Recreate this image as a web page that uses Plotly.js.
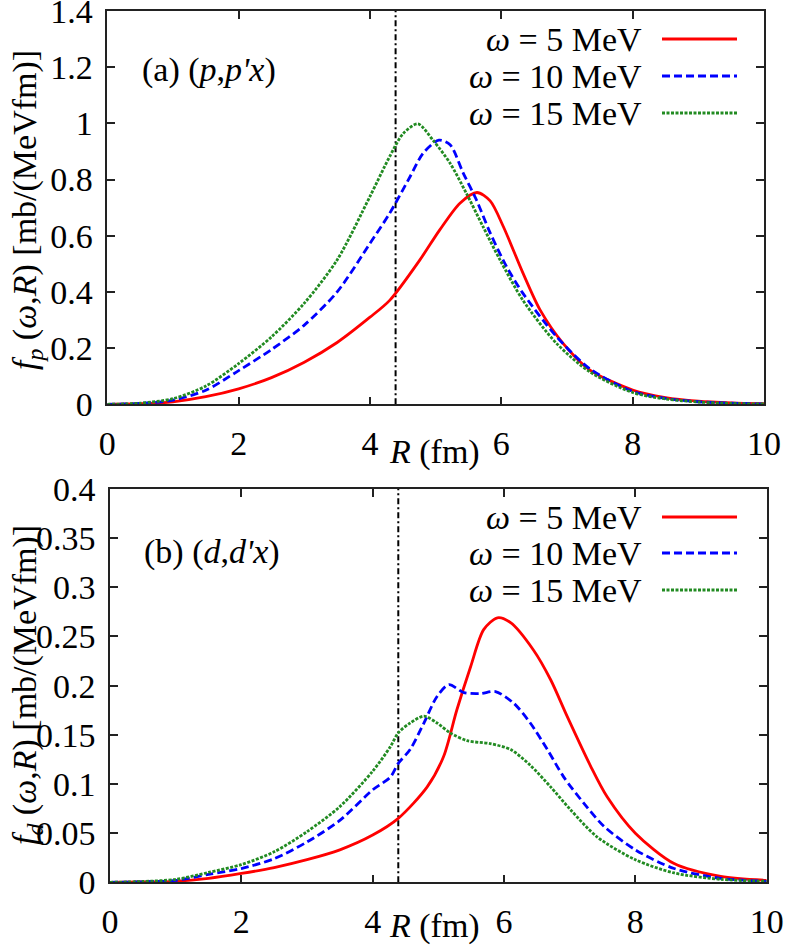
<html><head><meta charset="utf-8">
<script src="https://cdn.plot.ly/plotly-3.0.1.min.js"></script>
<style>
#chart svg text, #chart .main-svg text, #chart text tspan { font-family: 'Liberation Serif', 'Times New Roman', serif !important; }
</style>
</head><body style="margin:0">
<div id="chart" style="width:788px;height:946px"></div>
<script>
// ---- data ----
var seriesNames = ["<i>ω</i> = 5 MeV", "<i>ω</i> = 10 MeV", "<i>ω</i> = 15 MeV"];

// (a) (p,p'x)
var pR5  = [0, 0.5, 1, 1.5, 2, 2.5, 3, 3.5, 4, 4.3, 4.76, 5.06, 5.37, 5.63, 5.83, 6.03, 6.33, 6.59, 6.94, 7.35, 8, 8.5, 9, 9.5, 10];
var pF5  = [0, 0.002, 0.009, 0.027, 0.055, 0.095, 0.15, 0.22, 0.31, 0.37, 0.514, 0.62, 0.716, 0.754, 0.724, 0.633, 0.467, 0.336, 0.217, 0.122, 0.051, 0.024, 0.011, 0.005, 0.002];
var pR10 = [0, 0.5, 1, 1.5, 2, 2.5, 3, 3.5, 4, 4.3, 4.61, 4.81, 5.05, 5.22, 5.42, 5.62, 5.83, 6.08, 6.33, 6.84, 7.35, 8, 8.5, 9, 9.5, 10];
var pF10 = [0, 0.003, 0.015, 0.05, 0.12, 0.195, 0.282, 0.40, 0.573, 0.68, 0.81, 0.894, 0.94, 0.924, 0.823, 0.728, 0.61, 0.49, 0.395, 0.241, 0.126, 0.046, 0.021, 0.009, 0.004, 0.001];
var pR15 = [0, 0.5, 1, 1.5, 2, 2.5, 3, 3.5, 4, 4.3, 4.51, 4.73, 4.96, 5.22, 5.47, 5.72, 5.98, 6.33, 6.84, 7.35, 8, 8.5, 9, 9.5, 10];
var pF15 = [0, 0.004, 0.02, 0.065, 0.145, 0.24, 0.36, 0.514, 0.74, 0.882, 0.965, 0.998, 0.94, 0.858, 0.75, 0.633, 0.514, 0.37, 0.217, 0.115, 0.042, 0.019, 0.008, 0.003, 0.001];

// (b) (d,d'x)
var dR5  = [0, 0.5, 1, 1.5, 2, 2.5, 3, 3.5, 4, 4.39, 4.83, 5.08, 5.28, 5.49, 5.69, 5.9, 6.1, 6.45, 6.71, 6.96, 7.32, 7.57, 8, 8.59, 9.3, 10];
var dF5  = [0, 0.0003, 0.001, 0.004, 0.009, 0.015, 0.023, 0.033, 0.048, 0.065, 0.097, 0.128, 0.175, 0.219, 0.257, 0.269, 0.264, 0.236, 0.206, 0.169, 0.118, 0.087, 0.05, 0.019, 0.006, 0.002];
var dR10 = [0, 0.5, 1, 1.5, 2, 2.5, 3, 3.5, 4, 4.27, 4.39, 4.57, 4.78, 4.98, 5.16, 5.39, 5.64, 5.87, 6.15, 6.4, 6.66, 6.91, 7.22, 7.52, 8, 8.59, 9.3, 10];
var dF10 = [0, 0.0005, 0.002, 0.008, 0.014, 0.024, 0.041, 0.063, 0.094, 0.107, 0.121, 0.135, 0.162, 0.189, 0.201, 0.193, 0.192, 0.194, 0.182, 0.162, 0.135, 0.107, 0.08, 0.057, 0.033, 0.014, 0.004, 0.001];
var dR15 = [0, 0.5, 1, 1.5, 2, 2.5, 3, 3.5, 4, 4.27, 4.39, 4.57, 4.78, 4.98, 5.18, 5.44, 5.79, 6.1, 6.4, 6.71, 7.01, 7.42, 8, 8.59, 9.3, 10];
var dF15 = [0, 0.0008, 0.003, 0.01, 0.018, 0.031, 0.0515, 0.077, 0.113, 0.138, 0.152, 0.162, 0.169, 0.162, 0.152, 0.144, 0.141, 0.135, 0.119, 0.097, 0.074, 0.046, 0.023, 0.0095, 0.003, 0.001];

var radiusLine = [4.39, 4.39];
var pLineY = [0, 1.4];
var dLineY = [0, 0.4];

var xTicks = [0, 2, 4, 6, 8, 10];
var pYTicks = [0, 0.2, 0.4, 0.6, 0.8, 1, 1.2, 1.4];
var pYLabels = ["0", "0.2", "0.4", "0.6", "0.8", "1", "1.2", "1.4"];
var dYTicks = [0, 0.05, 0.1, 0.15, 0.2, 0.25, 0.3, 0.35, 0.4];
var dYLabels = ["0", "0.05", "0.1", "0.15", "0.2", "0.25", "0.3", "0.35", "0.4"];

// ---- styling ----
var W = 788, H = 946;
var SERIF = "Liberation Serif";
var FS = 34;
var colors = ["#ff0000", "#0000ff", "#228b22"];
var dashes = ["solid", "8px,4px", "3px,1.5px"];
var vdash = "6px,3px,2px,3px";

function mkTrace(x, y, i, xa, ya) {
  return {x: x, y: y, type: "scatter", mode: "lines", xaxis: xa, yaxis: ya,
    line: {color: colors[i], width: 2.8, dash: dashes[i], shape: "spline", smoothing: 0.8},
    hoverinfo: "skip", showlegend: false};
}
var traces = [
  {x: radiusLine, y: pLineY, type: "scatter", mode: "lines", xaxis: "x", yaxis: "y",
   line: {color: "#000", width: 2, dash: vdash}, showlegend: false, hoverinfo: "skip"},
  {x: radiusLine, y: dLineY, type: "scatter", mode: "lines", xaxis: "x2", yaxis: "y2",
   line: {color: "#000", width: 2, dash: vdash}, showlegend: false, hoverinfo: "skip"},
  mkTrace(pR5, pF5, 0, "x", "y"), mkTrace(pR10, pF10, 1, "x", "y"), mkTrace(pR15, pF15, 2, "x", "y"),
  mkTrace(dR5, dF5, 0, "x2", "y2"), mkTrace(dR10, dF10, 1, "x2", "y2"), mkTrace(dR15, dF15, 2, "x2", "y2")
];

function fx(x) { return x / W; }
function fy(y) { return 1 - y / H; }

function mkAxis(extra) {
  var a = {
    showgrid: false, zeroline: false, showline: true, mirror: "ticks",
    linecolor: "#222", linewidth: 1.5, ticks: "inside", ticklen: 8, tickwidth: 1.5, tickcolor: "#222",
    tickfont: {family: SERIF, size: FS, color: "#000"}, fixedrange: true, ticklabeloverflow: "allow"
  };
  for (var k in extra) a[k] = extra[k];
  return a;
}

var annotations = [];
var shapes = [];
function addText(text, x, y, xanchor, angle) {
  annotations.push({text: text, xref: "paper", yref: "paper", x: fx(x), y: fy(y),
    xanchor: xanchor, yanchor: "middle", showarrow: false, textangle: angle || 0,
    font: {family: SERIF, size: FS, color: "#000"}});
}
// axis titles
addText("<i>R</i> (fm)", 435, 452, "center");
addText("<i>R</i> (fm)", 435, 926, "center");
addText("<i>f</i><sub><i>p</i></sub> (<i>ω</i>,<i>R</i>) [mb/(MeVfm)]", 27, 210, "center", -90);
addText("<i>f</i><sub><i>d</i></sub> (<i>ω</i>,<i>R</i>) [mb/(MeVfm)]", 27, 685, "center", -90);
// panel labels
addText("(a) (<i>p</i>,<i>p'x</i>)", 140, 70, "left");
addText("(b) (<i>d</i>,<i>d'x</i>)", 142, 552, "left");
// legends
var legRowsTop = [39, 76, 113], legRowsBot = [517, 553, 590];
[legRowsTop, legRowsBot].forEach(function (rows) {
  rows.forEach(function (ry, i) {
    addText(seriesNames[i], 644, ry, "right");
    shapes.push({type: "line", xref: "paper", yref: "paper", x0: fx(662), x1: fx(737), y0: fy(ry), y1: fy(ry),
      line: {color: colors[i], width: 2.8, dash: dashes[i]}});
  });
});

var layout = {
  width: W, height: H, margin: {l: 0, r: 0, t: 0, b: 0},
  showlegend: false,
  font: {family: SERIF, size: FS, color: "#000"},
  xaxis: mkAxis({domain: [fx(107.3), fx(764)], range: [0, 10], tickvals: xTicks, ticktext: xTicks.map(String), anchor: "y", ticklabelstandoff: 8}),
  yaxis: mkAxis({domain: [fy(404.3), fy(11)], range: [0, 1.4], tickvals: pYTicks, ticktext: pYLabels, anchor: "x", ticklabelstandoff: 6}),
  xaxis2: mkAxis({domain: [fx(110), fx(766.7)], range: [0, 10], tickvals: xTicks, ticktext: xTicks.map(String), anchor: "y2", ticklabelstandoff: 8}),
  yaxis2: mkAxis({domain: [fy(882.3), fy(489)], range: [0, 0.4], tickvals: dYTicks, ticktext: dYLabels, anchor: "x2", ticklabelstandoff: 6}),
  annotations: annotations, shapes: shapes
};

Plotly.newPlot("chart", traces, layout, {displayModeBar: false});
</script>
</body></html>
